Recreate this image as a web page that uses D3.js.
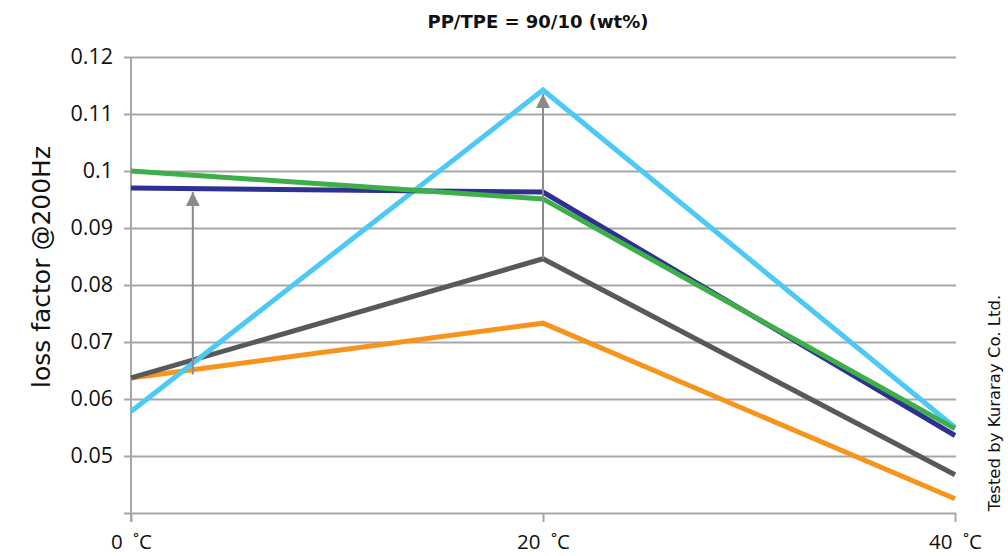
<!DOCTYPE html>
<html><head><meta charset="utf-8">
<script src="https://cdn.jsdelivr.net/npm/d3@7"></script>
<style>body{margin:0;background:#fff}svg{display:block}</style>
</head><body>
<svg id="c" width="1008" height="556"></svg>
<script>
const temps = [0, 20, 40];
const xTickLabels = ["0 \u02DAC", "20 \u02DAC", "40 \u02DAC"];
const yTicks = [0.04, 0.05, 0.06, 0.07, 0.08, 0.09, 0.10, 0.11, 0.12];
const yTickLabels = ["", "0.05", "0.06", "0.07", "0.08", "0.09", "0.1", "0.11", "0.12"];
const orangeVals = [0.0637, 0.0733, 0.0425];
const grayVals   = [0.0637, 0.0846, 0.0467];
const cyanVals   = [0.0578, 0.1142, 0.0550];
const navyVals   = [0.0970, 0.0963, 0.0536];
const greenVals  = [0.1000, 0.0951, 0.0548];
const arrowX     = [3, 20];
const arrowFrom  = [0.0643, 0.0846];
const arrowTo    = [0.0970, 0.1142];
const title = "PP/TPE = 90/10 (wt%)";
const yTitle = "loss factor @200Hz";
const note = "Tested by Kuraray Co. Ltd.";

const series = [
  {vals: orangeVals, color: "#F7941D"},
  {vals: grayVals,   color: "#58595B"},
  {vals: cyanVals,   color: "#4CC9F5"},
  {vals: navyVals,   color: "#2E3192"},
  {vals: greenVals,  color: "#3EAE49"}
];

const svg = d3.select("#c");
const x = d3.scaleLinear().domain([0, 40]).range([131, 955]);
const y = d3.scaleLinear().domain([0.04, 0.12]).range([513, 57]);
const gridColor = "#A7A7A7";

// horizontal gridlines with left ticks
const yAxis = d3.axisLeft(y).tickValues(yTicks).tickSize(-(956 - 131)).tickSizeOuter(0)
  .tickFormat((d, i) => yTickLabels[i]).tickPadding(18);
const gy = svg.append("g").attr("transform", "translate(131,0)").call(yAxis);
gy.select(".domain").remove();
gy.selectAll(".tick line").attr("x1", -7).attr("stroke", gridColor).attr("stroke-width", 2);
gy.selectAll(".tick text").attr("font-family", "Open Sans, sans-serif").attr("font-size", 21.5).attr("fill", "#111");

// vertical axis line
svg.append("line").attr("x1", x(0)).attr("x2", x(0)).attr("y1", y(0.12)).attr("y2", 522)
  .attr("stroke", gridColor).attr("stroke-width", 2);

// x axis ticks
const xAxis = d3.axisBottom(x).tickValues(temps).tickSize(9).tickSizeOuter(0)
  .tickFormat((d, i) => xTickLabels[i]).tickPadding(12);
const gx = svg.append("g").attr("transform", "translate(0,513)").call(xAxis);
gx.select(".domain").remove();
gx.selectAll(".tick line").attr("stroke", gridColor).attr("stroke-width", 2);
gx.selectAll(".tick text").attr("font-family", "Open Sans, sans-serif").attr("font-size", 20.5)
  .attr("word-spacing", 5).attr("fill", "#111");

// lines
const line = d3.line().x((d, i) => x(temps[i])).y(d => y(d));
series.forEach(s => {
  svg.append("path").datum(s.vals).attr("d", line).attr("fill", "none")
    .attr("stroke", s.color).attr("stroke-width", 5).attr("stroke-linejoin", "miter");
});

// arrows
const defs = svg.append("defs");
defs.append("marker").attr("id", "ah").attr("viewBox", "0 0 10 10").attr("refX", 10).attr("refY", 5)
  .attr("markerWidth", 7).attr("markerHeight", 7).attr("markerUnits", "strokeWidth").attr("orient", "auto")
  .append("path").attr("d", "M0,0 L10,5 L0,10 Z").attr("fill", "#8A8A8C");
arrowX.forEach((ax, i) => {
  svg.append("line").attr("x1", x(ax)).attr("x2", x(ax)).attr("y1", y(arrowFrom[i])).attr("y2", y(arrowTo[i]) + 4)
    .attr("stroke", "#8A8A8C").attr("stroke-width", 2).attr("marker-end", "url(#ah)");
});

// texts
svg.append("text").attr("x", 538).attr("y", 28).attr("text-anchor", "middle")
  .attr("font-family", "DejaVu Sans, sans-serif").attr("font-weight", "bold").attr("font-size", 18)
  .attr("fill", "#111").text(title);
svg.append("text").attr("transform", "translate(50,267) rotate(-90)").attr("text-anchor", "middle")
  .attr("font-family", "DejaVu Sans, sans-serif").attr("font-size", 25).attr("fill", "#111").text(yTitle);
svg.append("text").attr("transform", "translate(1000,403) rotate(-90)").attr("text-anchor", "middle")
  .attr("font-family", "DejaVu Sans, sans-serif").attr("font-size", 16.5).attr("fill", "#111").text(note);
</script>
</body></html>
